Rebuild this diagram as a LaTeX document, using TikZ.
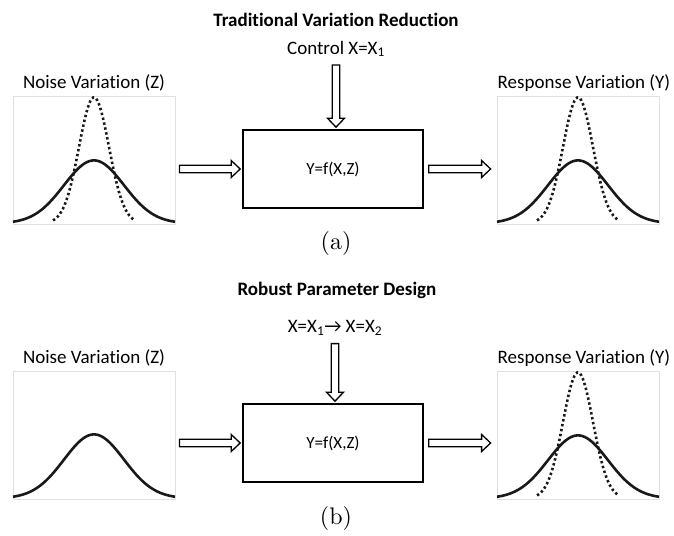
\documentclass[tikz,border=0pt]{standalone}
\usepackage{fontspec}
\setmainfont{Carlito}[Ligatures=NoCommon]
\newfontfamily\lmfont{lmroman10-regular}[Extension=.otf]
\usetikzlibrary{calc,positioning}

\tikzset{
  panel/.style={draw=black!12, line width=0.8pt, minimum width=162pt, minimum height=128pt, inner sep=0pt},
  sysbox/.style={draw, line width=1.6pt, minimum width=180pt, minimum height=78pt, font=\fontsize{17}{20}\selectfont},
  lbl/.style={font=\fontsize{19}{22}\selectfont, inner sep=0pt},
  ttl/.style={font=\bfseries\fontsize{19}{22}\selectfont, inner sep=0pt},
  subcap/.style={font=\lmfont\fontsize{24}{28}\selectfont, inner sep=0pt},
  wide/.style={line width=2.6pt, black!90},
  narrow/.style={line width=2.6pt, black!90, dash pattern=on 2.4pt off 2.6pt},
  hollow/.style={draw, line width=1.3pt, fill=white, line join=miter},
}

% hollow block arrow from #1 to #2
\newcommand{\hollowarrow}[2]{%
  \draw[hollow] let \p1=(#1), \p2=(#2), \n1={atan2(\y2-\y1,\x2-\x1)}, \n2={veclen(\x2-\x1,\y2-\y1)} in
    [shift={(\p1)}, rotate=\n1] (0,-3.75) -- (\n2-9,-3.75) -- (\n2-9,-8.5) -- (\n2,0)
    -- (\n2-9,8.5) -- (\n2-9,3.75) -- (0,3.75) -- cycle;}

\begin{document}
\begin{tikzpicture}[x=1pt, y=1pt]
  \useasboundingbox (0,0) rectangle (674,535);
  \def\wsig{1800}   % 2*sigma^2, wide curve
  \def\nsig{450}    % 2*sigma^2, narrow curve

  % (a) traditional variation reduction
  \node[ttl] (ttlA) at (336,515) {Traditional Variation Reduction};
  \node[lbl] (ctrlA) at (336,486) {Control X=X\textsubscript{1}};
  \node[sysbox] (sysA) at (333,366) {Y=f(X,Z)};
  \node[panel] (noiseA) at (94,375) {};
  \node[panel] (respA) at (578,375) {};
  \node[lbl, above=4pt of noiseA] (noiseAlbl) {Noise Variation (Z)};
  \node[lbl, above=4pt of respA, xshift=6pt] (respAlbl) {Response Variation (Y)};
  \node[subcap] (capA) at (336,291) {(a)};

  \begin{scope}[shift={(noiseA.south)}]
    \draw[wide] plot[domain=-81:81, samples=80] (\x,{1+63*exp(-(\x)^2/\wsig)});
    \draw[narrow] plot[domain=-41:41, samples=60] (\x,{1+126*exp(-(\x)^2/\nsig)});
  \end{scope}
  \begin{scope}[shift={(respA.south)}]
    \draw[wide] plot[domain=-81:81, samples=80] (\x,{1+63*exp(-(\x)^2/\wsig)});
    \draw[narrow] plot[domain=-41:41, samples=60] (\x,{1+126*exp(-(\x)^2/\nsig)});
  \end{scope}

  \coordinate (inA) at ($(noiseA.east |- sysA.west)+(4,0)$);
  \coordinate (outA) at ($(respA.west |- sysA.east)+(-6,0)$);
  \hollowarrow{inA}{$(sysA.west)+(-2,0)$}
  \hollowarrow{$(sysA.east)+(5,0)$}{outA}
  \hollowarrow{$(ctrlA.south)+(0,-8)$}{$(ctrlA.south |- sysA.north)+(0,2)$}

  % (b) robust parameter design
  \node[ttl] (ttlB) at (337,245) {Robust Parameter Design};
  \node[lbl] (ctrlB) at (335,207) {X=X\textsubscript{1}→ X=X\textsubscript{2}};
  \node[sysbox] (sysB) at (333,92) {Y=f(X,Z)};
  \node[panel] (noiseB) at (94,100) {};
  \node[panel] (respB) at (578,100) {};
  \node[lbl, above=4pt of noiseB] (noiseBlbl) {Noise Variation (Z)};
  \node[lbl, above=4pt of respB, xshift=6pt] (respBlbl) {Response Variation (Y)};
  \node[subcap] (capB) at (336,17) {(b)};

  \begin{scope}[shift={(noiseB.south)}]
    \draw[wide] plot[domain=-81:81, samples=80] (\x,{1+64*exp(-(\x)^2/\wsig)});
  \end{scope}
  \begin{scope}[shift={(respB.south)}]
    \draw[wide] plot[domain=-81:81, samples=80] (\x,{1+63*exp(-(\x)^2/\wsig)});
    \draw[narrow] plot[domain=-41:41, samples=60] (\x,{1+126*exp(-(\x)^2/\nsig)});
  \end{scope}

  \coordinate (inB) at ($(noiseB.east |- sysB.west)+(4,0)$);
  \coordinate (outB) at ($(respB.west |- sysB.east)+(-6,0)$);
  \hollowarrow{inB}{$(sysB.west)+(-2,0)$}
  \hollowarrow{$(sysB.east)+(5,0)$}{outB}
  \hollowarrow{$(ctrlB.south)+(0,-8)$}{$(ctrlB.south |- sysB.north)+(0,2)$}
\end{tikzpicture}
\end{document}
